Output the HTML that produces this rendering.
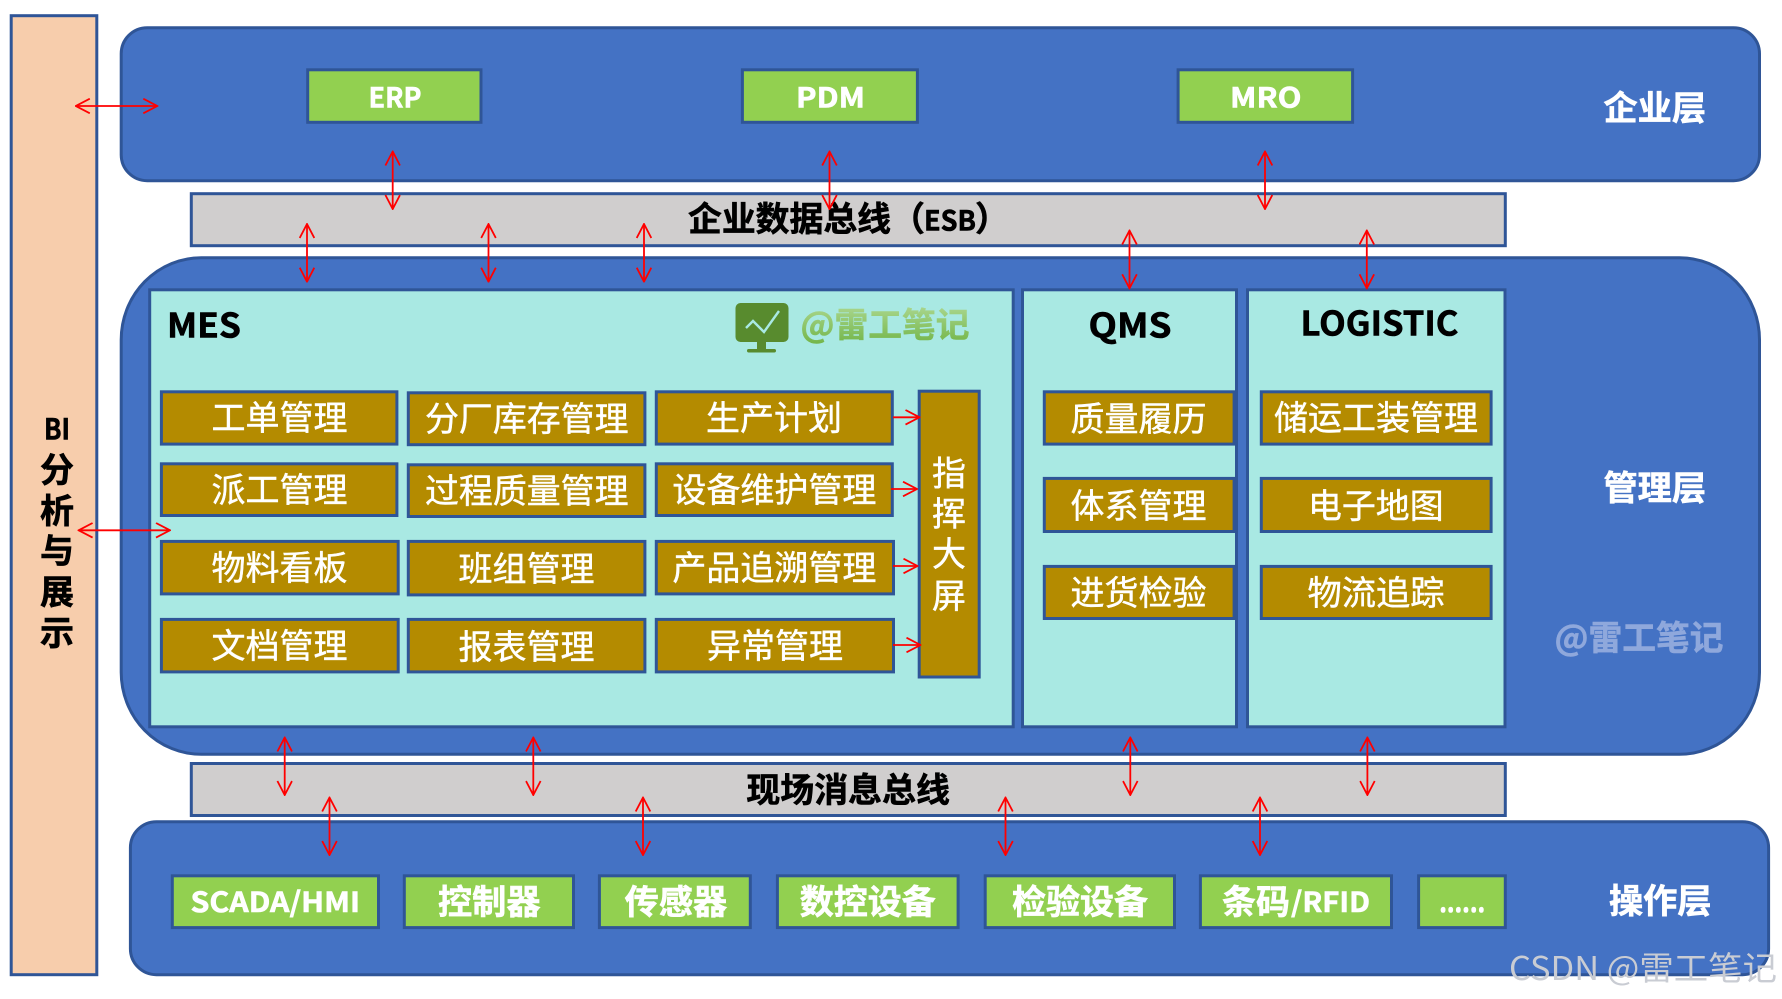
<!DOCTYPE html>
<html lang="zh"><head><meta charset="utf-8"><title>架构图</title>
<style>
html,body{margin:0;padding:0;background:#fff;width:1782px;height:999px;overflow:hidden}
svg{display:block}
text{font-family:"Noto Sans CJK SC","Liberation Sans",sans-serif}
.b rect{stroke:#2F5597;stroke-width:3}
.w{fill:#fff;font-size:34px;font-weight:400;stroke:#fff;stroke-width:.45}
.wb{fill:#fff;font-size:34px;font-weight:700;stroke:#fff;stroke-width:.6}
.k{fill:#000;font-size:34px;font-weight:700;stroke:#000;stroke-width:.6}
.a{stroke:#f00;stroke-width:1.8;fill:none;marker-start:url(#h);marker-end:url(#h)}
.s{stroke:#f00;stroke-width:1.8;fill:none;marker-end:url(#h)}
</style></head><body>
<svg width="1782" height="999" viewBox="0 0 1782 999" xmlns="http://www.w3.org/2000/svg">
<defs>
<marker id="h" viewBox="0 0 16 16" markerUnits="userSpaceOnUse" markerWidth="16" markerHeight="16" refX="15" refY="8" orient="auto-start-reverse"><path d="M1 .7L15 8L1 15.3" fill="none" stroke="#f00" stroke-width="1.8"/></marker>
<linearGradient id="g" x1="0" y1="0" x2="0" y2="1"><stop offset="0" stop-color="#B5DD9C"/><stop offset="1" stop-color="#6FB344"/></linearGradient>
</defs>
<g class="b">
<rect x="11.2" y="15.7" width="85.6" height="959" fill="#F7CDAC"/>
<rect x="121.2" y="27.7" width="1638.3" height="153" rx="26" ry="26" fill="#4472C4"/>
<rect x="191.3" y="193.7" width="1314" height="52" fill="#D0CECE"/>
<rect x="121.2" y="257.7" width="1638.3" height="496.6" rx="80" ry="82" fill="#4472C4"/>
<rect x="191.3" y="763.5" width="1314" height="52" fill="#D0CECE"/>
<rect x="130.4" y="821.7" width="1638.2" height="153" rx="26" ry="26" fill="#4472C4"/>
<g fill="#92D050">
<rect x="307.7" y="69.8" width="173.3" height="52.5"/>
<rect x="742.4" y="69.8" width="175" height="52.5"/>
<rect x="1178.1" y="69.8" width="174.5" height="52.5"/>
<rect x="172.3" y="875.8" width="206.2" height="51.8"/>
<rect x="404.3" y="875.8" width="169.2" height="51.8"/>
<rect x="599.4" y="875.8" width="150.9" height="51.8"/>
<rect x="777.4" y="875.8" width="180.7" height="51.8"/>
<rect x="985.2" y="875.8" width="189.3" height="51.8"/>
<rect x="1200.4" y="875.8" width="191.1" height="51.8"/>
<rect x="1418.6" y="875.8" width="86.7" height="51.8"/>
</g>
<g fill="#A9E9E3">
<rect x="149.7" y="289.8" width="863.5" height="437"/>
<rect x="1022.5" y="289.8" width="214" height="437"/>
<rect x="1247.5" y="289.8" width="257.5" height="437"/>
</g>
<g fill="#B48B00">
<rect x="161.4" y="391.8" width="235.5" height="52.3"/>
<rect x="408.3" y="392.8" width="236.6" height="51.9"/>
<rect x="656.3" y="391.8" width="236" height="52.3"/>
<rect x="161.4" y="463.8" width="235.5" height="51.7"/>
<rect x="408.3" y="464.8" width="236.6" height="51.7"/>
<rect x="656.3" y="463.8" width="236" height="51.7"/>
<rect x="161.4" y="541.4" width="236.8" height="52.5"/>
<rect x="408.3" y="541.4" width="236.6" height="53.5"/>
<rect x="656.3" y="541.4" width="237.2" height="52.5"/>
<rect x="161.4" y="619.4" width="236.8" height="52.5"/>
<rect x="408.3" y="619.4" width="236.6" height="52.5"/>
<rect x="656.3" y="619.4" width="237.2" height="52.5"/>
<rect x="919.2" y="391.2" width="60" height="285.8"/>
<rect x="1044.3" y="391.8" width="189.8" height="52.3"/>
<rect x="1044.3" y="478.4" width="189.8" height="53.1"/>
<rect x="1044.3" y="566.4" width="189.8" height="52.1"/>
<rect x="1261.3" y="391.8" width="229.8" height="52.3"/>
<rect x="1261.3" y="478.4" width="229.8" height="53.1"/>
<rect x="1261.3" y="566.4" width="229.8" height="52.1"/>
</g>
</g>

<!-- top labels -->
<text class="wb" style="font-size:28px" x="368.5" y="107.5" textLength="53" lengthAdjust="spacingAndGlyphs">ERP</text>
<text class="wb" style="font-size:28px" x="796" y="107.5" textLength="69" lengthAdjust="spacingAndGlyphs">PDM</text>
<text class="wb" style="font-size:28px" x="1230" y="107.5" textLength="71.5" lengthAdjust="spacingAndGlyphs">MRO</text>
<text class="wb" x="1603.5" y="120" textLength="102.5" lengthAdjust="spacingAndGlyphs">企业层</text>
<text class="wb" x="1603.5" y="500" textLength="102.5" lengthAdjust="spacingAndGlyphs">管理层</text>
<text class="wb" x="1609" y="913" textLength="102.5" lengthAdjust="spacingAndGlyphs">操作层</text>
<text x="1554.5" y="650" textLength="169" lengthAdjust="spacingAndGlyphs" style="font-size:34px;font-weight:700;fill:#8FA8DC;stroke:#8FA8DC;stroke-width:.5">@雷工笔记</text>

<!-- buses -->
<text class="k" x="688" y="231" textLength="203" lengthAdjust="spacingAndGlyphs">企业数据总线</text>
<text class="k" x="891" y="231">（</text>
<text class="k" style="font-size:28px" x="924" y="230.5" textLength="52" lengthAdjust="spacingAndGlyphs">ESB</text>
<text class="k" x="975" y="231">）</text>
<text class="k" x="746.4" y="802" textLength="203.5" lengthAdjust="spacingAndGlyphs">现场消息总线</text>

<!-- BI -->
<g class="k" text-anchor="middle">
<text x="57" y="439.5" style="font-size:29px" textLength="26" lengthAdjust="spacingAndGlyphs">BI</text>
<text x="57" y="482">分</text><text x="57" y="523">析</text><text x="57" y="563">与</text><text x="57" y="604">展</text><text x="57" y="645">示</text>
</g>

<!-- panel titles -->
<text class="k" x="167" y="337.5" textLength="74" lengthAdjust="spacingAndGlyphs">MES</text>
<text class="k" x="1088.5" y="337.5" textLength="83" lengthAdjust="spacingAndGlyphs">QMS</text>
<text class="k" x="1300.5" y="335.5" textLength="158" lengthAdjust="spacingAndGlyphs">LOGISTIC</text>

<!-- monitor logo -->
<rect x="735.5" y="303" width="53" height="39" rx="5" fill="#588B2E"/>
<rect x="757" y="341" width="9" height="9" fill="#588B2E"/>
<rect x="747" y="349" width="29" height="3.5" rx="1.7" fill="#588B2E"/>
<path d="M746 328L753 321L764 332L779 311" fill="none" stroke="#A9E9E3" stroke-width="2.4"/>
<text x="800.5" y="337" textLength="169" lengthAdjust="spacingAndGlyphs" style="font-size:34px;font-weight:700;fill:url(#g);stroke:url(#g);stroke-width:.5">@雷工笔记</text>

<!-- MES items -->
<text class="w" x="211.5" y="430" textLength="136" lengthAdjust="spacingAndGlyphs">工单管理</text>
<text class="w" x="211.5" y="502" textLength="136" lengthAdjust="spacingAndGlyphs">派工管理</text>
<text class="w" x="211.5" y="580" textLength="136" lengthAdjust="spacingAndGlyphs">物料看板</text>
<text class="w" x="211.5" y="658" textLength="136" lengthAdjust="spacingAndGlyphs">文档管理</text>
<text class="w" x="425" y="431" textLength="203.5" lengthAdjust="spacingAndGlyphs">分厂库存管理</text>
<text class="w" x="425" y="503" textLength="203.5" lengthAdjust="spacingAndGlyphs">过程质量管理</text>
<text class="w" x="458.5" y="581" textLength="136" lengthAdjust="spacingAndGlyphs">班组管理</text>
<text class="w" x="458.5" y="659" textLength="136" lengthAdjust="spacingAndGlyphs">报表管理</text>
<text class="w" x="706" y="430" textLength="136" lengthAdjust="spacingAndGlyphs">生产计划</text>
<text class="w" x="672.4" y="502" textLength="204" lengthAdjust="spacingAndGlyphs">设备维护管理</text>
<text class="w" x="672.4" y="580" textLength="204" lengthAdjust="spacingAndGlyphs">产品追溯管理</text>
<text class="w" x="707" y="658" textLength="136" lengthAdjust="spacingAndGlyphs">异常管理</text>
<g class="w" text-anchor="middle">
<text x="949" y="485.5">指</text><text x="949" y="526">挥</text><text x="949" y="566">大</text><text x="949" y="608">屏</text>
</g>

<!-- QMS / LOGISTIC items -->
<text class="w" x="1070.5" y="431" textLength="136" lengthAdjust="spacingAndGlyphs">质量履历</text>
<text class="w" x="1070.5" y="518" textLength="136" lengthAdjust="spacingAndGlyphs">体系管理</text>
<text class="w" x="1070.5" y="605" textLength="136" lengthAdjust="spacingAndGlyphs">进货检验</text>
<text class="w" x="1274" y="430" textLength="204" lengthAdjust="spacingAndGlyphs">储运工装管理</text>
<text class="w" x="1308" y="518" textLength="135.6" lengthAdjust="spacingAndGlyphs">电子地图</text>
<text class="w" x="1307.5" y="605" textLength="137" lengthAdjust="spacingAndGlyphs">物流追踪</text>

<!-- bottom items -->
<text class="wb" style="font-size:28px" x="190.5" y="912" textLength="169.5" lengthAdjust="spacingAndGlyphs">SCADA/HMI</text>
<text class="wb" x="438" y="914" textLength="102.5" lengthAdjust="spacingAndGlyphs">控制器</text>
<text class="wb" x="624.7" y="914" textLength="102.5" lengthAdjust="spacingAndGlyphs">传感器</text>
<text class="wb" x="799.8" y="914" textLength="136" lengthAdjust="spacingAndGlyphs">数控设备</text>
<text class="wb" x="1012" y="914" textLength="136" lengthAdjust="spacingAndGlyphs">检验设备</text>
<text class="wb" x="1222" y="914" textLength="68" lengthAdjust="spacingAndGlyphs">条码</text>
<text class="wb" style="font-size:28px" x="1291" y="912" textLength="79" lengthAdjust="spacingAndGlyphs">/RFID</text>
<text class="wb" style="font-size:28px" x="1439.2" y="912" textLength="46" lengthAdjust="spacingAndGlyphs">......</text>

<!-- arrows -->
<path class="a" d="M75.8 106H157.3"/>
<path class="a" d="M78.6 530.3H170"/>
<path class="a" d="M392.7 151.5V209"/>
<path class="a" d="M829.5 151.5V209"/>
<path class="a" d="M1265 151.5V209"/>
<path class="a" d="M307 224V281.7"/>
<path class="a" d="M488.5 224V281.7"/>
<path class="a" d="M644 224V281.7"/>
<path class="a" d="M1129.5 230.5V288.3"/>
<path class="a" d="M1366.8 230.5V288.3"/>
<path class="a" d="M284.7 737.5V795"/>
<path class="a" d="M533.3 737.5V795"/>
<path class="a" d="M1130.3 737.5V795"/>
<path class="a" d="M1367.4 737.5V795"/>
<path class="a" d="M329.5 797.5V855"/>
<path class="a" d="M643 797.5V855"/>
<path class="a" d="M1005.5 797.5V855"/>
<path class="a" d="M1260 797.5V855"/>
<path class="s" d="M893 417.3H919.5"/>
<path class="s" d="M891 489H917"/>
<path class="s" d="M893 566H917.5"/>
<path class="s" d="M893 645H920.5"/>

<!-- watermark -->
<text x="1509" y="980" textLength="268" lengthAdjust="spacingAndGlyphs" style="font-size:33px;font-weight:400;fill:#C9CCD3">CSDN @雷工笔记</text>
</svg>
</body></html>
